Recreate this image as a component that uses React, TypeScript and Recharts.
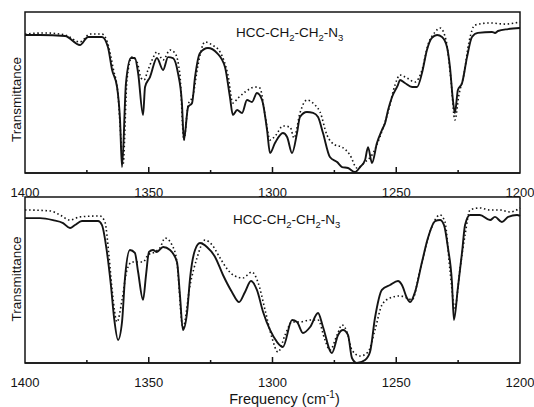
import React from 'react';
import { LineChart, Line, XAxis, YAxis, ReferenceArea } from 'recharts';

// Frequency axis (cm^-1)
const allTicks = [1400, 1375, 1350, 1325, 1300, 1275, 1250, 1225, 1200];
const labelledTicks = [1400, 1350, 1300, 1250, 1200];
const formulaParts = ['HCC-CH', '2', '-CH', '2', '-N', '3'];
const yTitle = 'Transmittance';
const xTitle = 'Frequency (cm';

// ---- Top panel, solid trace ----
const topSolidFreq = [1400, 1393.9, 1383.8, 1377.8, 1374.5, 1368.9, 1366.5, 1364.8, 1362.8, 1361.6, 1360.8, 1359.2, 1357.2, 1355.6, 1354.3, 1352.3, 1351.5, 1349.5, 1346.7, 1344.2, 1342.2, 1340.2, 1338.2, 1336.6, 1335.8, 1334.1, 1332.5, 1331.3, 1329.3, 1326.1, 1322.4, 1319.2, 1317.2, 1316.0, 1314.3, 1312.3, 1310.3, 1308.3, 1306.3, 1304.2, 1302.2, 1301.0, 1299.0, 1295.8, 1294.1, 1292.1, 1290.1, 1288.9, 1286.1, 1283.6, 1281.6, 1279.6, 1276.8, 1273.9, 1271.9, 1269.5, 1266.7, 1264.6, 1262.6, 1261.4, 1259.8, 1257.8, 1255.8, 1254.5, 1253.3, 1251.7, 1249.3, 1248.5, 1246.5, 1243.6, 1241.6, 1239.6, 1237.6, 1235.6, 1233.5, 1231.5, 1229.5, 1228.3, 1227.1, 1226.3, 1225.1, 1223.4, 1221.4, 1219.4, 1217.0, 1211.3, 1210.1, 1208.9, 1204.8, 1200];
const topSolidT = [85.7, 85.7, 85.1, 79.5, 84.5, 84.5, 78.3, 64.0, 53.4, 32.9, 3.7, 55.9, 71.4, 71.4, 62.1, 36.0, 53.4, 59.6, 71.4, 64.0, 72.0, 71.4, 62.1, 43.5, 20.5, 41.0, 43.5, 59.6, 74.5, 77.6, 74.5, 65.8, 47.2, 36.0, 39.1, 37.3, 45.3, 44.1, 49.7, 45.3, 26.7, 12.4, 18.6, 24.8, 22.4, 12.4, 24.8, 34.8, 37.9, 37.3, 34.8, 24.8, 9.9, 6.8, 3.7, 3.1, 0.6, 3.7, 8.1, 16.1, 6.2, 18.6, 26.7, 31.1, 39.1, 47.2, 54.7, 57.8, 55.9, 53.4, 53.4, 62.1, 76.4, 83.9, 85.7, 84.5, 78.3, 65.8, 45.3, 37.3, 51.6, 55.9, 72.0, 84.5, 87.0, 87.6, 87.0, 88.2, 89.4, 90.1];

// ---- Top panel, dotted trace ----
const topDotFreq = [1400, 1391.9, 1383.8, 1377.8, 1373.7, 1368.9, 1366.5, 1364.4, 1362.4, 1361.2, 1360.4, 1358.8, 1356.8, 1354.7, 1353.1, 1351.9, 1350.3, 1348.3, 1346.7, 1344.2, 1341.4, 1339.4, 1337.4, 1335.8, 1334.1, 1332.1, 1330.1, 1327.3, 1324.4, 1321.2, 1318.0, 1316.0, 1313.9, 1311.1, 1307.1, 1305.1, 1303.0, 1301.0, 1298.6, 1295.8, 1292.9, 1291.3, 1288.9, 1286.1, 1282.8, 1280.8, 1278.0, 1274.7, 1271.9, 1268.7, 1265.9, 1262.6, 1259.8, 1256.6, 1253.3, 1250.5, 1248.5, 1245.7, 1242.4, 1239.6, 1237.2, 1234.3, 1232.3, 1229.9, 1227.9, 1226.3, 1224.7, 1222.7, 1220.6, 1218.2, 1212.1, 1206.1, 1200];
const topDotT = [86.3, 87.0, 85.7, 81.4, 86.3, 86.3, 80.1, 65.2, 48.4, 20.5, 5.0, 57.8, 72.0, 68.9, 59.0, 57.8, 64.0, 71.4, 75.2, 70.2, 76.4, 74.5, 60.9, 20.5, 42.2, 48.4, 67.1, 81.4, 79.5, 75.2, 60.9, 43.5, 46.6, 50.3, 53.4, 52.8, 36.0, 20.5, 23.6, 29.2, 28.6, 21.7, 37.3, 45.3, 42.2, 37.9, 23.6, 17.4, 16.1, 11.2, 3.1, 6.8, 11.2, 22.4, 37.9, 54.7, 60.9, 59.0, 56.5, 64.0, 79.5, 87.6, 90.1, 82.6, 57.8, 32.9, 48.4, 60.9, 81.4, 91.9, 93.2, 92.5, 93.8];

// ---- Bottom panel, solid trace ----
const botSolidFreq = [1400, 1393.9, 1388.7, 1384.6, 1381.8, 1379.8, 1377.0, 1370.5, 1368.9, 1366.9, 1365.3, 1364.0, 1362.4, 1360.8, 1359.6, 1357.6, 1355.6, 1354.3, 1352.3, 1351.1, 1349.9, 1348.3, 1346.7, 1344.2, 1341.4, 1338.6, 1337.4, 1336.2, 1334.5, 1333.3, 1331.3, 1329.3, 1326.5, 1323.2, 1320.0, 1316.4, 1313.5, 1311.1, 1308.7, 1306.3, 1303.8, 1301.0, 1298.2, 1295.8, 1292.1, 1290.1, 1287.7, 1284.8, 1281.6, 1279.6, 1276.0, 1273.5, 1271.5, 1269.5, 1267.9, 1265.9, 1262.6, 1260.6, 1258.6, 1255.8, 1252.5, 1249.3, 1247.7, 1245.7, 1244.4, 1242.4, 1239.6, 1237.2, 1234.3, 1232.3, 1230.7, 1229.1, 1227.5, 1226.7, 1225.1, 1223.4, 1222.2, 1220.2, 1216.2, 1212.1, 1210.1, 1207.3, 1204.8, 1201.2, 1200];
const botSolidT = [87.3, 87.3, 86.1, 84.3, 81.3, 83.1, 85.5, 85.5, 83.1, 66.9, 47.0, 27.1, 13.9, 24.7, 51.2, 68.1, 66.3, 54.8, 38.0, 53.0, 66.9, 68.1, 66.9, 69.9, 68.1, 60.8, 41.0, 19.9, 30.7, 51.2, 68.1, 72.3, 69.9, 63.9, 53.0, 42.8, 36.7, 42.8, 49.4, 44.0, 30.7, 19.9, 12.7, 9.6, 25.9, 24.7, 18.1, 21.7, 30.1, 21.7, 6.0, 16.9, 19.9, 16.9, 3.0, 0, 1.8, 6.6, 27.1, 44.0, 47.0, 49.4, 47.0, 39.2, 36.7, 42.8, 60.8, 75.3, 85.5, 86.1, 83.1, 69.3, 48.8, 25.9, 45.2, 66.9, 83.1, 89.2, 89.2, 86.1, 88.0, 84.9, 88.0, 89.2, 88.6];

// ---- Bottom panel, dotted trace ----
const botDotFreq = [1400, 1389.9, 1385.9, 1381.8, 1377.8, 1369.7, 1367.7, 1366.1, 1364.8, 1362.8, 1360.8, 1358.8, 1356.8, 1354.3, 1352.3, 1350.3, 1347.5, 1345.5, 1343.4, 1340.6, 1338.6, 1336.2, 1333.3, 1330.5, 1327.3, 1324.4, 1321.2, 1318.0, 1315.2, 1312.0, 1308.3, 1305.9, 1303.0, 1300.2, 1297.8, 1294.9, 1292.1, 1288.9, 1284.8, 1281.6, 1278.8, 1276.8, 1273.9, 1271.9, 1269.9, 1267.9, 1264.6, 1261.4, 1258.6, 1255.8, 1252.5, 1248.5, 1245.7, 1243.6, 1240.4, 1236.4, 1232.3, 1230.3, 1228.3, 1226.3, 1224.3, 1222.2, 1220.2, 1216.2, 1212.1, 1208.1, 1204.0, 1200];
const botDotT = [92.2, 91.6, 89.2, 86.1, 88.0, 88.6, 84.9, 65.1, 44.0, 24.7, 38.0, 56.0, 60.8, 60.8, 60.8, 65.1, 66.9, 69.3, 75.3, 71.1, 60.8, 21.1, 47.0, 63.3, 74.1, 71.1, 63.3, 56.0, 52.4, 51.2, 54.8, 48.8, 31.9, 15.1, 6.6, 16.9, 24.7, 24.7, 25.9, 25.9, 13.9, 7.8, 16.9, 22.9, 18.7, 7.8, 4.2, 6.6, 19.9, 34.9, 39.2, 40.4, 39.2, 38.0, 56.0, 78.9, 89.2, 84.9, 56.0, 33.1, 56.0, 77.1, 92.2, 93.4, 92.2, 92.2, 91.0, 93.4];

const zip = (f: number[], t: number[]) => f.map((v, i) => ({ freq: v, t: t[i] }));

const INK = '#141414';
const FONT = '"Liberation Sans", Arial, Helvetica, sans-serif';
const TICK_MARGIN = 15;

const Formula = ({ x, y }: { x: number; y: number }) => (
  <text x={x} y={y} fontSize={13.5} fill={INK} fontFamily={FONT}>
    <tspan>{formulaParts[0]}</tspan>
    <tspan fontSize={9.5} dy={4}>{formulaParts[1]}</tspan>
    <tspan dy={-4}>{formulaParts[2]}</tspan>
    <tspan fontSize={9.5} dy={4}>{formulaParts[3]}</tspan>
    <tspan dy={-4}>{formulaParts[4]}</tspan>
    <tspan fontSize={9.5} dy={4}>{formulaParts[5]}</tspan>
  </text>
);

const FreqTick = (props: any) => {
  const { x, y, payload } = props;
  const v = payload && payload.value;
  const axisY = y - TICK_MARGIN;
  const major = labelledTicks.includes(v);
  const edge = v === 1400 || v === 1200;
  return (
    <g>
      {!edge && (
        <line x1={x} x2={x} y1={axisY} y2={axisY - (major ? 6 : 3)} stroke={INK} strokeWidth={1.5} />
      )}
      {major && (
        <text x={x} y={y + 9} textAnchor="middle" fontSize={13} fill={INK} fontFamily={FONT}>
          {v}
        </text>
      )}
    </g>
  );
};

type PanelProps = {
  solid: { freq: number; t: number }[];
  dotted: { freq: number; t: number }[];
  top: number;
  height: number;
  marginTop: number;
  axisHeight: number;
  formulaDx: number;
  formulaDy: number;
  yLabelDy: number;
  showXTitle: boolean;
};

const Panel = (p: PanelProps) => (
  <div style={{ position: 'absolute', left: 0, top: p.top }}>
    <LineChart
      width={534}
      height={p.height}
      data={p.solid}
      margin={{ top: p.marginTop, right: 0, bottom: 0, left: 0 }}
    >
      <YAxis
        yAxisId="l"
        type="number"
        domain={[0, 100]}
        width={25}
        tick={false}
        tickLine={false}
        axisLine={false}
        label={{
          content: (props: any) => {
            const vb = props.viewBox || { x: 0, y: 0, width: 25, height: 0 };
            const cx = vb.x + vb.width - 9;
            const cy = vb.y + vb.height / 2 + p.yLabelDy;
            return (
              <text
                x={cx}
                y={cy}
                transform={`rotate(-90 ${cx} ${cy})`}
                textAnchor="middle"
                dominantBaseline="central"
                fontSize={13.5}
                fill={INK}
                fontFamily={FONT}
              >
                {yTitle}
              </text>
            );
          },
        }}
      />
      <YAxis
        yAxisId="r"
        orientation="right"
        type="number"
        domain={[0, 100]}
        width={14}
        tick={false}
        tickLine={false}
        axisLine={false}
      />
      <XAxis
        xAxisId="main"
        dataKey="freq"
        type="number"
        domain={[1200, 1400]}
        reversed
        ticks={allTicks}
        interval={0}
        height={p.axisHeight}
        tickSize={0}
        tickMargin={TICK_MARGIN}
        tickLine={false}
        axisLine={{ stroke: INK, strokeWidth: 1.5 }}
        tick={<FreqTick />}
        label={
          p.showXTitle
            ? {
                content: (props: any) => {
                  const vb = props.viewBox || { x: 25, y: 363, width: 495, height: 44 };
                  const cx = vb.x + vb.width / 2 + 12;
                  const cy = vb.y + 41;
                  return (
                    <text x={cx} y={cy} textAnchor="middle" fontSize={14.5} fill={INK} fontFamily={FONT}>
                      <tspan>{xTitle}</tspan>
                      <tspan fontSize={10} dy={-6}>-1</tspan>
                      <tspan dy={6}>)</tspan>
                    </text>
                  );
                },
              }
            : undefined
        }
      />
      <ReferenceArea
        xAxisId="main"
        yAxisId="l"
        x1={1400}
        x2={1200}
        y1={0}
        y2={100}
        fill="none"
        fillOpacity={0}
        stroke={INK}
        strokeWidth={1.5}
        ifOverflow="visible"
        label={{
          content: (props: any) => {
            const vb = props.viewBox || { x: 25, y: 12, width: 495, height: 160 };
            return <Formula x={vb.x + p.formulaDx} y={vb.y + p.formulaDy} />;
          },
        }}
      />
      <Line
        xAxisId="main"
        yAxisId="l"
        data={p.dotted}
        dataKey="t"
        type="monotone"
        stroke={INK}
        strokeWidth={1.6}
        strokeDasharray="1.5 2.6"
        dot={false}
        isAnimationActive={false}
      />
      <Line
        xAxisId="main"
        yAxisId="l"
        data={p.solid}
        dataKey="t"
        type="monotone"
        stroke={INK}
        strokeWidth={1.9}
        dot={false}
        isAnimationActive={false}
      />
    </LineChart>
  </div>
);

export default function App() {
  return (
    <div
      style={{
        position: 'absolute',
        left: 0,
        top: 0,
        width: 534,
        height: 407,
        background: '#fff',
        fontFamily: FONT,
      }}
    >
      <Panel
        solid={zip(topSolidFreq, topSolidT)}
        dotted={zip(topDotFreq, topDotT)}
        top={0}
        height={200}
        marginTop={12}
        axisHeight={27}
        formulaDx={211}
        formulaDy={25}
        yLabelDy={7}
        showXTitle={false}
      />
      <Panel
        solid={zip(botSolidFreq, botSolidT)}
        dotted={zip(botDotFreq, botDotT)}
        top={192}
        height={215}
        marginTop={5}
        axisHeight={44}
        formulaDx={208}
        formulaDy={27}
        yLabelDy={-1}
        showXTitle={true}
      />
    </div>
  );
}
